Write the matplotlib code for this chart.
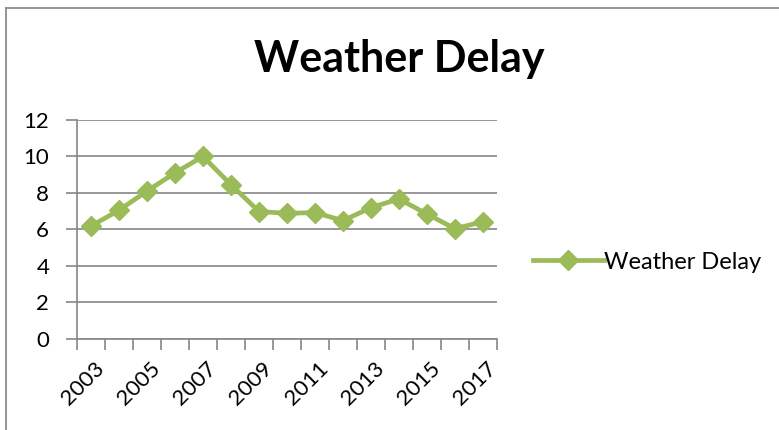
import numpy as np
import matplotlib
matplotlib.use("Agg")
import matplotlib.pyplot as plt
import matplotlib.transforms as mtransforms
from matplotlib.lines import Line2D

# values
years = ["2003", "2004", "2005", "2006", "2007", "2008", "2009", "2010",
         "2011", "2012", "2013", "2014", "2015", "2016", "2017"]
weather_delay = [6.18, 7.05, 8.1, 9.1, 10.0, 8.45, 6.98, 6.88,
                 6.92, 6.48, 7.19, 7.67, 6.84, 6.04, 6.42]
y_ticks = [0, 2, 4, 6, 8, 10, 12]

plt.rcParams["font.family"] = ["Lato", "DejaVu Sans"]

fig = plt.figure(figsize=(7.79, 4.30), dpi=100)
ax = fig.add_axes([0.0988, 0.2123, 0.5392, 0.5086])

green = "#9BBB59"
gray = "#868686"

x = np.arange(len(years))
ax.plot(x, weather_delay, color=green, lw=3.4, marker="D", ms=10.5,
        markeredgecolor=green, label="Weather Delay", zorder=3)

ax.set_ylim(0, 12)
ax.set_xlim(-0.5, len(years) - 0.5)
ax.set_yticks(y_ticks)
ax.yaxis.grid(True, color=gray, lw=1.2)
ax.set_axisbelow(True)

# category labels every other year, tick marks on category boundaries
ax.set_xticks(x[::2])
ax.set_xticklabels(years[::2], rotation=45, ha="right", va="top",
                   rotation_mode="anchor")
ax.set_xticks(np.arange(-0.5, len(years)), minor=True)
ax.tick_params(axis="x", which="major", length=0, pad=14, labelsize=16)
ax.tick_params(axis="x", which="minor", length=8, color=gray, width=1.2)
ax.tick_params(axis="y", length=8, color=gray, width=1.2, labelsize=16, pad=12)

shift = mtransforms.ScaledTranslation(3 / 100, 0, fig.dpi_scale_trans)
for lbl in ax.get_xticklabels():
    lbl.set_transform(lbl.get_transform() + shift)

for side in ["top", "right"]:
    ax.spines[side].set_visible(False)
for side in ["left", "bottom"]:
    ax.spines[side].set_color(gray)
    ax.spines[side].set_linewidth(1.2)

fig.text(0.512, 0.862, "Weather Delay", ha="center", va="center",
         fontsize=31, fontweight="bold")

ax.legend(loc="center left", bbox_to_anchor=(1.035, 0.35), frameon=False,
          fontsize=17, handlelength=3.0, handletextpad=0.0)

# chart area border (cut off on the right and bottom)
fig.add_artist(Line2D([6 / 779, 6 / 779], [0, 1 - 8 / 430], color="#8c8c8c", lw=1.3))
fig.add_artist(Line2D([6 / 779, 1], [1 - 8 / 430, 1 - 8 / 430], color="#8c8c8c", lw=1.3))

fig.savefig("out.png", dpi=100)
